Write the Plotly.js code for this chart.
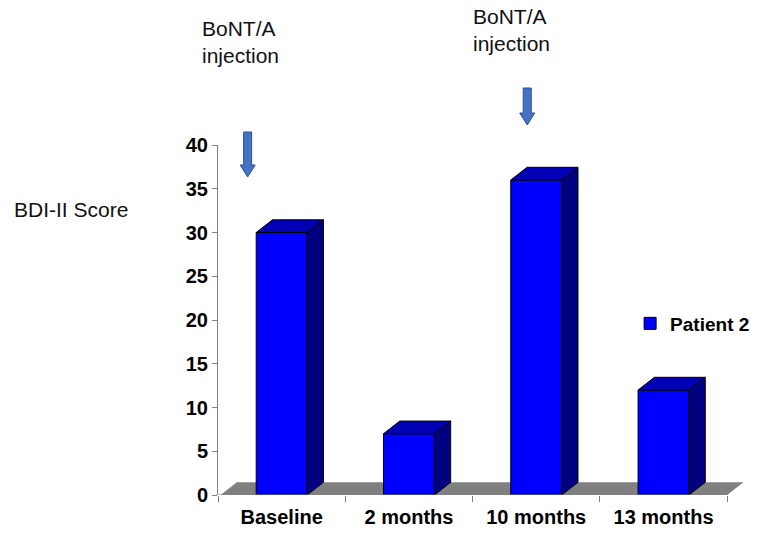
<!DOCTYPE html>
<html>
<head>
<meta charset="utf-8">
<script src="https://cdn.plot.ly/plotly-3.0.1.min.js"></script>
<style>html,body{margin:0;padding:0;background:#fff;}#chart{width:760px;height:533px;}</style>
</head>
<body>
<div id="chart"></div>
<script>
// ---- data ----
const categories = ['Baseline', '2 months', '10 months', '13 months'];
const patient2 = [30, 7, 36, 12];
const seriesName = 'Patient 2';
const yTickVals = [0, 5, 10, 15, 20, 25, 30, 35, 40];
const injectionAt = ['Baseline', '10 months'];
const injectionText = 'BoNT/A<br>injection';
const yLabel = 'BDI-II Score';

// ---- styling / geometry (pseudo-3D) ----
const FONT = '"Liberation Sans", Arial, sans-serif';
const W = 0.4;      // bar front width (category units)
const DX = 0.128;   // depth offset x
const DY = 1.45;    // depth offset y
const idx = categories.map((c, i) => i);
const nCat = categories.length;

const frontTrace = {
  type: 'bar', x: idx, y: patient2, width: W, name: seriesName,
  marker: {color: '#0000FF', line: {color: '#000000', width: 1}},
  hoverinfo: 'y', showlegend: true
};

const sideX = [], sideY = [], topX = [], topY = [];
idx.forEach((c, i) => {
  const v = patient2[i], r = c + W / 2, l = c - W / 2;
  sideX.push(r, r + DX, r + DX, r, r, null);
  sideY.push(0, DY, v + DY, v, 0, null);
  topX.push(l, r, r + DX, l + DX, l, null);
  topY.push(v, v, v + DY, v + DY, v, null);
});
const sideTrace = {
  type: 'scatter', mode: 'lines', x: sideX, y: sideY, fill: 'toself',
  fillcolor: '#000080', line: {color: '#000000', width: 1},
  hoverinfo: 'skip', showlegend: false
};
const topTrace = {
  type: 'scatter', mode: 'lines', x: topX, y: topY, fill: 'toself',
  fillcolor: '#0000B4', line: {color: '#000000', width: 1},
  hoverinfo: 'skip', showlegend: false
};

const xMin = -0.5, xMax = nCat - 0.5;
const floorL = xMin + 0.02;
const shapes = [
  {type: 'path', layer: 'below', xref: 'x', yref: 'y',
   path: `M${floorL},0 L${xMax},0 L${xMax + DX},${DY} L${floorL + DX},${DY} Z`,
   fillcolor: '#808080', line: {width: 0}},
  {type: 'line', xref: 'x', yref: 'y', x0: xMin, x1: xMax, y0: 0, y1: 0,
   line: {color: '#808080', width: 1}}
];

// injection arrows (pixel-sized, anchored on their category, above the plot top)
const arrowCfg = [
  {dx: -34, top: 13, head: -20, tip: -32},
  {dx: -9, top: 57, head: 32, tip: 20}
];
const annotations = [];
const textCfg = [{dx: -82, dy: 76}, {dx: -65, dy: 88}];
injectionAt.forEach((cat, k) => {
  const c = categories.indexOf(cat);
  const a = arrowCfg[k];
  const sx = 4, hx = 7.5;
  shapes.push({
    type: 'path', xref: 'x', yref: 'paper', xsizemode: 'pixel', ysizemode: 'pixel',
    xanchor: c, yanchor: 1,
    path: `M${a.dx - sx},${a.top} L${a.dx + sx},${a.top} L${a.dx + sx},${a.head} L${a.dx + hx},${a.head} L${a.dx},${a.tip} L${a.dx - hx},${a.head} L${a.dx - sx},${a.head} Z`,
    fillcolor: '#4472C4', line: {color: '#2F4F8F', width: 1}
  });
  annotations.push({
    xref: 'x', yref: 'y', x: c, y: 40, xanchor: 'left', yanchor: 'bottom',
    xshift: textCfg[k].dx, yshift: textCfg[k].dy, align: 'left',
    text: injectionText, showarrow: false,
    font: {family: FONT, size: 21, color: '#111111'}
  });
});
annotations.push({
  xref: 'paper', yref: 'y', x: 0, y: 32.6, xanchor: 'right', yanchor: 'middle',
  xshift: -88, text: yLabel, showarrow: false,
  font: {family: FONT, size: 21, color: '#111111'}
});

const layout = {
  width: 760, height: 533, autosize: false,
  margin: {l: 218, r: 15, t: 145, b: 38, pad: 0, autoexpand: false},
  paper_bgcolor: '#ffffff', plot_bgcolor: 'rgba(0,0,0,0)',
  font: {family: FONT, color: '#000000'},
  showlegend: true,
  legend: {x: 0.782, y: 0.49, xanchor: 'left', yanchor: 'middle',
           font: {family: FONT, size: 19, color: '#000000', weight: 'bold'},
           bgcolor: 'rgba(0,0,0,0)', borderwidth: 0},
  xaxis: {
    range: [xMin, xMax + 0.14], tickmode: 'array', tickvals: idx, ticktext: categories,
    ticks: '', showline: false, showgrid: false, zeroline: false,
    ticklabelstandoff: 8,
    tickfont: {family: FONT, size: 20, color: '#000000', weight: 'bold'},
    minor: {tickmode: 'array', tickvals: idx.concat([nCat]).map(v => v - 0.5),
            ticks: 'outside', ticklen: 6, tickcolor: '#808080', tickwidth: 1, showgrid: false},
    fixedrange: true
  },
  yaxis: {
    range: [0, 40], tickmode: 'array', tickvals: yTickVals,
    ticks: 'outside', ticklen: 5, tickcolor: '#808080', tickwidth: 1,
    showline: true, linecolor: '#808080', linewidth: 1,
    showgrid: false, zeroline: false,
    tickfont: {family: FONT, size: 20, color: '#000000', weight: 'bold'},
    fixedrange: true
  },
  bargap: 0.6,
  shapes: shapes,
  annotations: annotations
};

Plotly.newPlot('chart', [frontTrace, sideTrace, topTrace], layout, {displayModeBar: false, staticPlot: true});
</script>
</body>
</html>
